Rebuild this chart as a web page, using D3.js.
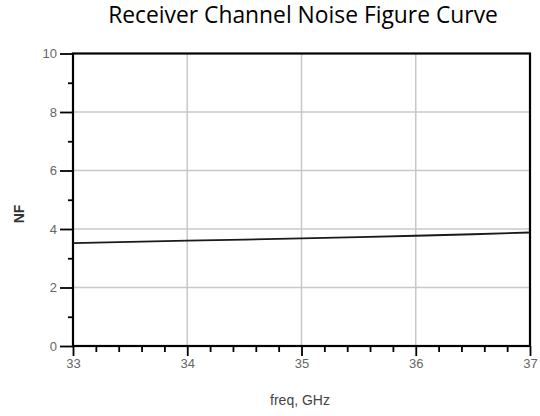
<!DOCTYPE html>
<meta charset="utf-8">
<script src="https://d3js.org/d3.v7.min.js"></script>
<style>
  body { margin: 0; background: #fff; }
  svg { display: block; }
  .tick text { font-family: "Liberation Sans", Arial, sans-serif; font-size: 13px; fill: #666; }
  .domain { display: none; }
</style>
<body>
<svg id="chart" width="540" height="416"></svg>
<script>
  // data
  var freqs = [33, 33.5, 34, 34.5, 35, 35.5, 36, 36.5, 37];
  var nf = [3.52, 3.56, 3.60, 3.64, 3.68, 3.72, 3.77, 3.82, 3.88];
  var xMajor = [33, 34, 35, 36, 37];
  var yMajor = [0, 2, 4, 6, 8, 10];

  var margin = {top: 53.5, right: 10, bottom: 70, left: 73},
      width = 540 - margin.left - margin.right,
      height = 416 - margin.top - margin.bottom;

  var svg = d3.select("#chart");
  var g = svg.append("g")
      .attr("transform", "translate(" + margin.left + "," + margin.top + ")");

  var x = d3.scaleLinear().domain([33, 37]).range([0, width]);
  var y = d3.scaleLinear().domain([0, 10]).range([height, 0]);

  var xMinor = d3.range(33, 37.001, 0.2).filter(function(v) { return Math.abs(v - Math.round(v)) > 0.01; });
  var yMinor = [1, 3, 5, 7, 9];

  // grid
  g.selectAll(".gx").data(xMajor.slice(1, -1)).enter().append("line")
      .attr("x1", function(d) { return x(d); }).attr("x2", function(d) { return x(d); })
      .attr("y1", 0).attr("y2", height)
      .style("stroke", "#c8c8c8").style("stroke-width", 1.5);
  g.selectAll(".gy").data(yMajor.slice(1, -1)).enter().append("line")
      .attr("y1", function(d) { return y(d); }).attr("y2", function(d) { return y(d); })
      .attr("x1", 0).attr("x2", width)
      .style("stroke", "#c8c8c8").style("stroke-width", 1.5);

  // axes
  var tickStyle = function(sel) {
    sel.selectAll(".tick line").style("stroke", "#000").style("stroke-width", 1.8);
  };
  g.append("g").attr("transform", "translate(0," + height + ")")
      .call(d3.axisBottom(x).tickValues(xMinor).tickSize(6).tickFormat(""))
      .call(tickStyle);
  g.append("g").attr("transform", "translate(0," + height + ")")
      .call(d3.axisBottom(x).tickValues(xMajor).tickSize(10).tickPadding(3).tickFormat(d3.format("d")))
      .call(tickStyle);
  g.append("g")
      .call(d3.axisLeft(y).tickValues(yMinor).tickSize(5).tickFormat(""))
      .call(tickStyle);
  g.append("g")
      .call(d3.axisLeft(y).tickValues(yMajor).tickSize(13).tickPadding(3).tickFormat(d3.format("d")))
      .call(tickStyle);

  // frame
  g.append("rect")
      .attr("width", width).attr("height", height)
      .style("fill", "none").style("stroke", "#000").style("stroke-width", 2.2);

  // curve
  var line = d3.line()
      .x(function(d, i) { return x(freqs[i]); })
      .y(function(d) { return y(d); });
  g.append("path").datum(nf)
      .attr("d", line)
      .style("fill", "none").style("stroke", "#1a1a1a").style("stroke-width", 1.8);

  // labels
  svg.append("text")
      .attr("x", 300).attr("y", 405)
      .attr("text-anchor", "middle")
      .style("font-family", "Liberation Sans, Arial, sans-serif").style("font-size", "14px").style("fill", "#444")
      .text("freq, GHz");
  svg.append("text")
      .attr("transform", "translate(24,214) rotate(-90)")
      .attr("text-anchor", "middle")
      .style("font-family", "Liberation Sans, Arial, sans-serif").style("font-size", "14px")
      .style("font-weight", "bold").style("fill", "#333")
      .text("NF");

  var title = svg.append("text")
      .attr("x", 303).attr("y", 23)
      .attr("text-anchor", "middle")
      .style("font-family", "Open Sans, sans-serif").style("font-size", "20px").style("fill", "#000")
      .text("Receiver Channel Noise Figure Curve");
  var tw = title.node().getComputedTextLength();
  title.style("font-size", (20 * 390 / tw) + "px");
</script>
</body>
